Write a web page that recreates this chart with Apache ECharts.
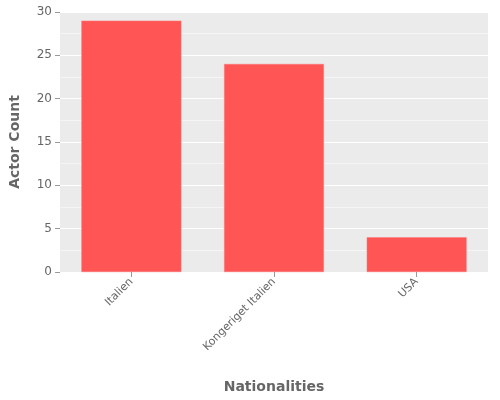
<!DOCTYPE html>
<html><head><meta charset="utf-8">
<script src="https://cdn.jsdelivr.net/npm/echarts@6/dist/echarts.min.js"></script>
<style>html,body{margin:0;padding:0;background:#fff}#c{width:500px;height:400px}</style>
</head><body><div id="c"></div>
<script>
const categories = ["Italien", "Kongeriget Italien", "USA"];
const actorCounts = [29, 24, 4];
const yTicks = [0, 5, 10, 15, 20, 25, 30];

const chart = echarts.init(document.getElementById('c'));
chart.setOption({
  animation: false,
  textStyle: { fontFamily: 'DejaVu Sans' },
  grid: { left: 58, right: 12, top: 12, bottom: 128, show: true, backgroundColor: '#ebebeb', borderWidth: 0 },
  xAxis: {
    type: 'category', data: categories,
    name: 'Nationalities', nameLocation: 'middle', nameGap: 108,
    nameTextStyle: { color: '#666', fontSize: 14, fontWeight: 'bold' },
    axisLine: { show: false }, axisTick: { show: true, lineStyle: { color: '#999' }, alignWithLabel: true },
    axisLabel: { rotate: 45, color: '#666', fontSize: 11, interval: 0 },
    splitLine: { show: false }
  },
  yAxis: {
    type: 'value', min: yTicks[0], max: yTicks[yTicks.length - 1], interval: 5,
    name: 'Actor Count', nameLocation: 'middle', nameGap: 38,
    nameTextStyle: { color: '#666', fontSize: 14, fontWeight: 'bold' },
    axisLine: { show: false }, axisTick: { show: true, lineStyle: { color: '#999' } },
    axisLabel: { color: '#666', fontSize: 12 },
    splitLine: { lineStyle: { color: '#fff', width: 1 } },
    minorTick: { show: false, splitNumber: 2 },
    minorSplitLine: { show: true, lineStyle: { color: '#f7f7f7', width: 0.8 } }
  },
  series: [{
    type: 'bar', data: actorCounts, barWidth: '70%',
    itemStyle: { color: '#ff5555', borderColor: '#ff7777', borderWidth: 0.5 }
  }]
});
</script></body></html>
